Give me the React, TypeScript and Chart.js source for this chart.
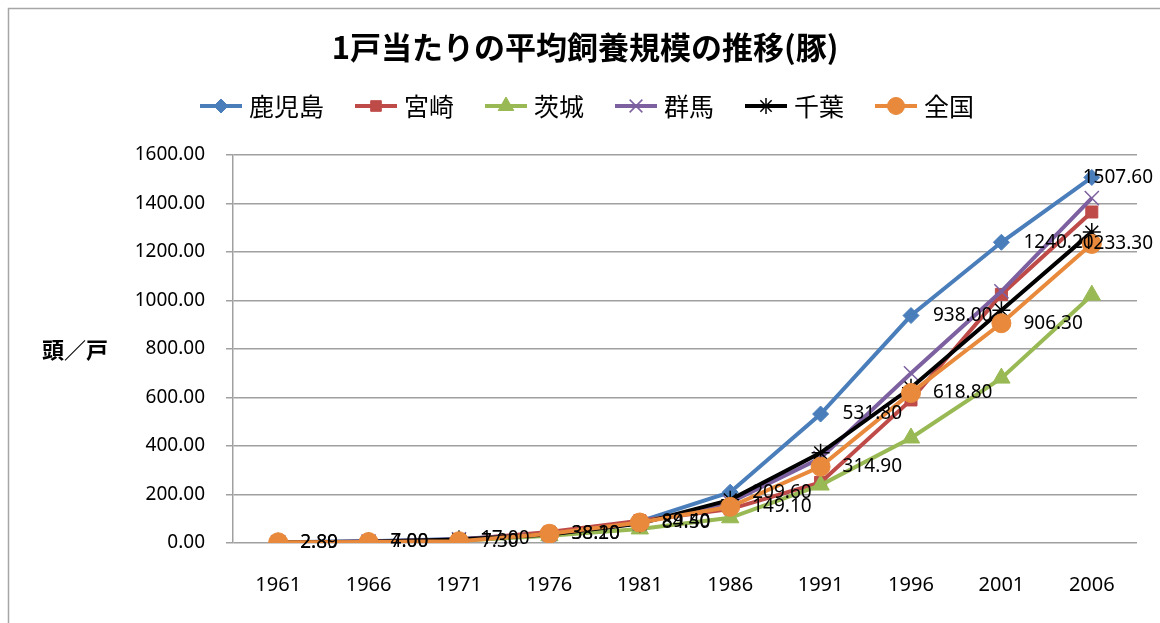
import React, { useEffect, useRef } from "react";
import { Chart, registerables } from "chart.js";
import { drawPoint } from "chart.js/helpers";

Chart.register(...registerables);

const title = "1戸当たりの平均飼養規模の推移(豚)";
const yAxisTitle = "頭／戸";
const years = ["1961", "1966", "1971", "1976", "1981", "1986", "1991", "1996", "2001", "2006"];

const kagoshima = [2.8, 7.0, 17.0, 38.2, 89.4, 209.6, 531.8, 938.0, 1240.2, 1507.6];
const miyazaki = [2.0, 5.0, 13.0, 45.0, 92.0, 140.0, 250.0, 590.0, 1025.0, 1365.0];
const ibaraki = [2.0, 4.0, 9.0, 30.0, 58.0, 104.0, 239.0, 433.0, 680.0, 1022.0];
const gunma = [3.0, 6.0, 15.0, 36.0, 82.0, 168.0, 350.0, 700.0, 1038.0, 1422.0];
const chiba = [3.0, 5.0, 14.0, 35.0, 80.0, 178.0, 372.0, 640.0, 960.0, 1282.0];
const zenkoku = [2.89, 4.0, 7.3, 38.1, 84.5, 149.1, 314.9, 618.8, 906.3, 1233.3];

const yTicks = [0, 200, 400, 600, 800, 1000, 1200, 1400, 1600];

const seriesDefs = [
  { label: "鹿児島", data: kagoshima, color: "#4A7EBB", style: "rectRot", radius: 8, bw: 1, labels: true },
  { label: "宮崎", data: miyazaki, color: "#BE4B48", style: "rect", radius: 8.5, bw: 1, labels: false },
  { label: "茨城", data: ibaraki, color: "#98B954", style: "triangle", radius: 10, bw: 1, labels: false },
  { label: "群馬", data: gunma, color: "#7D60A0", style: "crossRot", radius: 10, bw: 1.5, labels: false },
  { label: "千葉", data: chiba, color: "#000000", style: "star", radius: 9, bw: 1.5, labels: false },
  { label: "全国", data: zenkoku, color: "#E8893C", style: "circle", radius: 9.5, bw: 1, labels: true },
];

const NUM_FONT = "19px 'Noto Sans', sans-serif";

const customPlugin = {
  id: "custom",
  afterDatasetsDraw(chart: any) {
    const ctx = chart.ctx;
    ctx.save();
    ctx.font = NUM_FONT;
    ctx.fillStyle = "#000";
    ctx.textBaseline = "middle";
    ctx.textAlign = "left";
    chart.data.datasets.forEach((ds: any, i: number) => {
      if (!seriesDefs[i].labels) return;
      const meta = chart.getDatasetMeta(i);
      meta.data.forEach((pt: any, j: number) => {
        const txt = Number(ds.data[j]).toFixed(2);
        const w = ctx.measureText(txt).width;
        let x = pt.x + 22;
        if (x + w > 1153) x = 1153 - w;
        ctx.fillText(txt, x, pt.y);
      });
    });
    ctx.restore();
  },
  afterDraw(chart: any) {
    const ctx = chart.ctx;
    ctx.save();
    // outer border
    ctx.strokeStyle = "#A6A6A6";
    ctx.lineWidth = 1.5;
    ctx.beginPath();
    ctx.moveTo(8.5, 623);
    ctx.lineTo(8.5, 8.5);
    ctx.lineTo(1160, 8.5);
    ctx.stroke();

    // title
    ctx.fillStyle = "#000";
    ctx.font = "bold 31px 'Noto Sans CJK JP', sans-serif";
    ctx.textAlign = "center";
    ctx.textBaseline = "middle";
    ctx.fillText(title, 585, 47);

    // y-axis title
    ctx.font = "bold 22px 'Noto Sans CJK JP', sans-serif";
    ctx.fillText(yAxisTitle, 75, 350);

    // legend
    ctx.font = "25px 'Noto Sans CJK JP', sans-serif";
    ctx.textAlign = "left";
    let x = 200;
    const y = 106;
    seriesDefs.forEach((s) => {
      ctx.strokeStyle = s.color;
      ctx.lineWidth = 4;
      ctx.beginPath();
      ctx.moveTo(x, y);
      ctx.lineTo(x + 42, y);
      ctx.stroke();
      ctx.fillStyle = s.color;
      ctx.strokeStyle = s.color;
      ctx.lineWidth = s.bw;
      drawPoint(ctx, { pointStyle: s.style, radius: s.radius - 1, rotation: 0, borderWidth: s.bw }, x + 21, y);
      ctx.fillStyle = "#000";
      ctx.fillText(s.label, x + 49, y);
      x += 49 + ctx.measureText(s.label).width + 31;
    });
    ctx.restore();
  },
};

export default function App() {
  const ref = useRef<HTMLCanvasElement>(null);
  useEffect(() => {
    if (!ref.current) return;
    const chart = new Chart(ref.current, {
      type: "line",
      data: {
        labels: years,
        datasets: seriesDefs.map((s, i) => ({
          label: s.label,
          data: s.data,
          borderColor: s.color,
          backgroundColor: s.color,
          borderWidth: 4,
          pointStyle: s.style as any,
          pointRadius: s.radius,
          pointBorderWidth: s.bw,
          pointBackgroundColor: s.color,
          pointBorderColor: s.color,
          tension: 0,
          order: seriesDefs.length - i,
        })),
      },
      options: {
        animation: false,
        responsive: true,
        maintainAspectRatio: false,
        layout: { padding: { left: 0, top: 155, right: 23, bottom: 0 } },
        plugins: {
          legend: { display: false },
          title: { display: false },
          tooltip: { enabled: false },
        },
        scales: {
          x: {
            offset: true,
            grid: { display: false, drawTicks: false },
            border: { display: false },
            ticks: { color: "#000", font: { family: "'Noto Sans', sans-serif", size: 20 }, padding: 30, maxRotation: 0 },
            afterFit: (scale: any) => {
              scale.height = 80;
            },
          },
          y: {
            min: 0,
            max: 1600,
            afterBuildTicks: (scale: any) => {
              scale.ticks = yTicks.map((v) => ({ value: v }));
            },
            grid: { color: "#A0A0A0", lineWidth: 1.5, tickLength: 7 },
            border: { display: true, color: "#A0A0A0", width: 1.5 },
            ticks: {
              color: "#000",
              font: { family: "'Noto Sans', sans-serif", size: 19 },
              padding: 21,
              callback: (v: any) => Number(v).toFixed(2),
            },
            afterFit: (scale: any) => {
              scale.width = 233;
            },
          },
        },
      },
      plugins: [customPlugin],
    });
    return () => chart.destroy();
  }, []);
  return (
    <div style={{ position: "fixed", left: 0, top: 0, width: 1160, height: 623, background: "#fff" }}>
      <canvas ref={ref} />
    </div>
  );
}
